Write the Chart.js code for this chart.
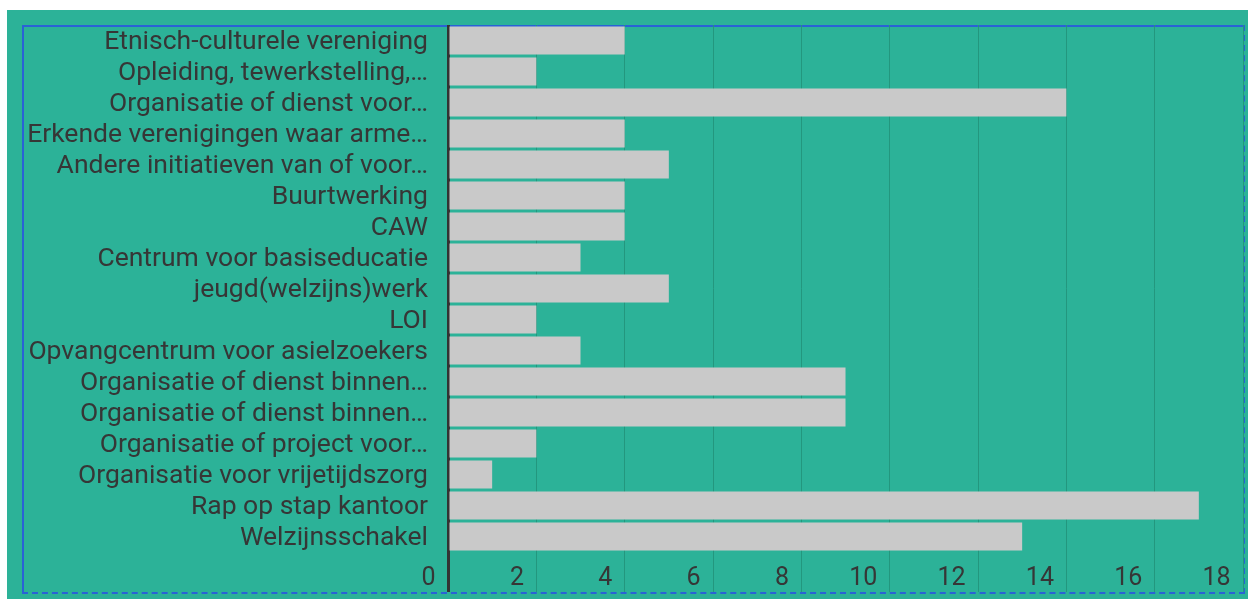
<!DOCTYPE html>
<html>
<head>
<meta charset="utf-8">
<script src="https://cdn.jsdelivr.net/npm/chart.js@4/dist/chart.umd.min.js"></script>
<style>
  html, body { margin: 0; padding: 0; background: #ffffff; }
  #wrap { position: relative; width: 1248px; height: 599px; overflow: hidden; }
  #bg { position: absolute; left: 7px; top: 10px; width: 1241px; height: 589px; background: #2cb298; }
  #frame { position: absolute; left: 22px; top: 25px; width: 1219px; height: 565px;
           border-top: 2px solid #2a62d6; border-left: 2px solid #2a62d6;
           border-right: 2px dashed #2a62d6; border-bottom: 2px dashed #2a62d6; }
  #chart { position: absolute; left: 0; top: 0; }
</style>
</head>
<body>
<div id="wrap">
  <div id="bg"></div>
  <div id="frame"></div>
  <canvas id="chart" width="1248" height="599"></canvas>
</div>
<script>
// categorieën en waarden zoals in de grafiek
const categories = [
  'Etnisch-culturele vereniging',
  'Opleiding, tewerkstelling,…',
  'Organisatie of dienst voor…',
  'Erkende verenigingen waar arme…',
  'Andere initiatieven van of voor…',
  'Buurtwerking',
  'CAW',
  'Centrum voor basiseducatie',
  'jeugd(welzijns)werk',
  'LOI',
  'Opvangcentrum voor asielzoekers',
  'Organisatie of dienst binnen…',
  'Organisatie of dienst binnen…',
  'Organisatie of project voor…',
  'Organisatie voor vrijetijdszorg',
  'Rap op stap kantoor',
  'Welzijnsschakel'
];
const counts = [4, 2, 14, 4, 5, 4, 4, 3, 5, 2, 3, 9, 9, 2, 1, 17, 13];
const xTicks = [0, 2, 4, 6, 8, 10, 12, 14, 16, 18];

const textColor = '#363636';

new Chart(document.getElementById('chart'), {
  type: 'bar',
  data: {
    labels: categories,
    datasets: [{
      data: counts,
      backgroundColor: '#c9c9c9',
      borderWidth: 0,
      barPercentage: 0.9,
      categoryPercentage: 1.0
    }]
  },
  options: {
    indexAxis: 'y',
    responsive: false,
    animation: false,
    layout: { padding: { left: 0, top: 25, right: 5, bottom: 7 } },
    plugins: { legend: { display: false }, tooltip: { enabled: false } },
    scales: {
      x: {
        min: 0,
        max: 18,
        afterBuildTicks: (axis) => { axis.ticks = xTicks.map(v => ({ value: v })); },
        afterFit: (axis) => { axis.height = 40; axis.paddingLeft = 0; axis.paddingRight = 0; },
        border: { display: false },
        grid: {
          drawOnChartArea: true,
          drawTicks: true,
          tickLength: 40,
          color: (c) => c.tick && c.tick.value === 0 ? '#333333' : '#23977e',
          lineWidth: (c) => c.tick && c.tick.value === 0 ? 3 : 1
        },
        ticks: {
          align: 'end',
          padding: -28,
          color: textColor,
          font: { family: 'Roboto, sans-serif', size: 25 },
          callback: (v) => v + '  '
        }
      },
      y: {
        afterFit: (axis) => { axis.width = 448; axis.paddingTop = 0; axis.paddingBottom = 0; },
        border: { display: false },
        grid: { display: false },
        ticks: {
          padding: 12,
          labelOffset: 2,
          color: textColor,
          font: { family: 'Roboto, sans-serif', size: 26.5 },
          autoSkip: false
        }
      }
    }
  }
});
</script>
</body>
</html>
